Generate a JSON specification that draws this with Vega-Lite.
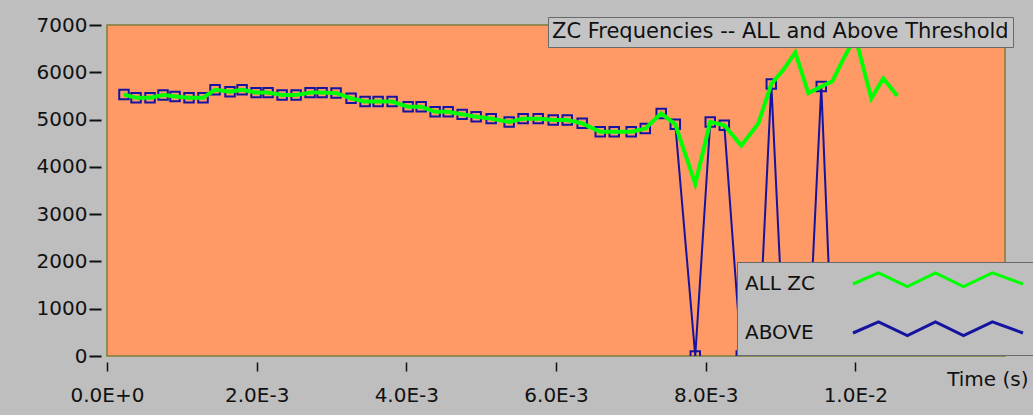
{
  "$schema": "https://vega.github.io/schema/vega-lite/v6.json",
  "width": 898,
  "height": 331,
  "autosize": {"type": "none"},
  "padding": {"left": 107, "top": 25, "right": 28, "bottom": 59},
  "background": "#bebebe",
  "config": {
    "view": {"fill": "#ff9966", "stroke": "#7d7d3a", "strokeWidth": 1.5},
    "font": "DejaVu Sans",
    "axis": {"labelFont": "DejaVu Sans", "labelFontSize": 20, "labelColor": "#111111", "tickColor": "#111111", "domain": false, "grid": false, "titleFont": "DejaVu Sans", "labelFlush": false},
    "axisY": {"values": [0, 1000, 2000, 3000, 4000, 5000, 6000, 7000], "format": "d", "title": null, "offset": 6, "tickSize": 12, "tickWidth": 2, "labelPadding": 2},
    "legend": {"labelFont": "DejaVu Sans", "titleFont": "DejaVu Sans"}
  },
  "data": {"values": [
    {"t": 0.000227, "allzc": 5530, "above": 5530},
    {"t": 0.000388, "allzc": 5460, "above": 5460},
    {"t": 0.000575, "allzc": 5460, "above": 5460},
    {"t": 0.000749, "allzc": 5520, "above": 5520},
    {"t": 0.000909, "allzc": 5490, "above": 5490},
    {"t": 0.001096, "allzc": 5460, "above": 5460},
    {"t": 0.001283, "allzc": 5460, "above": 5460},
    {"t": 0.001444, "allzc": 5630, "above": 5630},
    {"t": 0.001644, "allzc": 5590, "above": 5590},
    {"t": 0.001805, "allzc": 5630, "above": 5630},
    {"t": 0.001992, "allzc": 5570, "above": 5570},
    {"t": 0.002152, "allzc": 5570, "above": 5570},
    {"t": 0.002340, "allzc": 5520, "above": 5520},
    {"t": 0.002527, "allzc": 5520, "above": 5520},
    {"t": 0.002714, "allzc": 5570, "above": 5570},
    {"t": 0.002874, "allzc": 5570, "above": 5570},
    {"t": 0.003061, "allzc": 5560, "above": 5560},
    {"t": 0.003262, "allzc": 5450, "above": 5450},
    {"t": 0.003449, "allzc": 5380, "above": 5380},
    {"t": 0.003623, "allzc": 5380, "above": 5380},
    {"t": 0.003810, "allzc": 5380, "above": 5380},
    {"t": 0.004024, "allzc": 5270, "above": 5270},
    {"t": 0.004198, "allzc": 5270, "above": 5270},
    {"t": 0.004385, "allzc": 5165, "above": 5165},
    {"t": 0.004559, "allzc": 5165, "above": 5165},
    {"t": 0.004746, "allzc": 5110, "above": 5110},
    {"t": 0.004933, "allzc": 5060, "above": 5060},
    {"t": 0.005134, "allzc": 5020, "above": 5020},
    {"t": 0.005374, "allzc": 4950, "above": 4950},
    {"t": 0.005561, "allzc": 5020, "above": 5020},
    {"t": 0.005762, "allzc": 5020, "above": 5020},
    {"t": 0.005963, "allzc": 4990, "above": 4990},
    {"t": 0.006150, "allzc": 4990, "above": 4990},
    {"t": 0.006350, "allzc": 4920, "above": 4920},
    {"t": 0.006591, "allzc": 4740, "above": 4740},
    {"t": 0.006778, "allzc": 4740, "above": 4740},
    {"t": 0.007005, "allzc": 4740, "above": 4740},
    {"t": 0.007193, "allzc": 4810, "above": 4810},
    {"t": 0.007406, "allzc": 5130, "above": 5130},
    {"t": 0.007594, "allzc": 4900, "above": 4900},
    {"t": 0.007861, "allzc": 3640, "above": 0},
    {"t": 0.008061, "allzc": 4950, "above": 4950},
    {"t": 0.008249, "allzc": 4880, "above": 4880},
    {"t": 0.008476, "allzc": 4450, "above": 0},
    {"t": 0.008703, "allzc": 4915, "above": 0},
    {"t": 0.008877, "allzc": 5750, "above": 5750},
    {"t": 0.009051, "allzc": 6080, "above": 0},
    {"t": 0.009198, "allzc": 6420, "above": 0},
    {"t": 0.009372, "allzc": 5560, "above": 0},
    {"t": 0.009545, "allzc": 5700, "above": 5700},
    {"t": 0.009693, "allzc": 5810, "above": 0},
    {"t": 0.009840, "allzc": 6280, "above": 0},
    {"t": 0.010000, "allzc": 6750, "above": 0},
    {"t": 0.010214, "allzc": 5450, "above": 0},
    {"t": 0.010374, "allzc": 5870, "above": 0},
    {"t": 0.010561, "allzc": 5500, "above": 0}
  ]},
  "encoding": {
    "x": {
      "field": "t", "type": "quantitative",
      "scale": {"domain": [0, 0.012], "nice": false, "zero": false},
      "axis": {
        "values": [0, 0.002, 0.004, 0.006, 0.008, 0.01],
        "labelExpr": "upper(format(datum.value, '.1e'))",
        "title": "Time (s)",
        "offset": 6, "tickSize": 9, "tickWidth": 1.5, "labelPadding": 14,
        "titleFontSize": 20, "titleFontWeight": "normal", "titleColor": "#111111",
        "titleAnchor": "end", "titleAlign": "right", "titleX": 921, "titleY": 17, "titleBaseline": "middle"
      }
    }
  },
  "layer": [
    {
      "mark": {"type": "line", "strokeWidth": 2, "clip": true},
      "encoding": {
        "y": {
          "field": "above", "type": "quantitative",
          "scale": {"domain": [0, 7000], "nice": false},
          "axis": {"title": null}
        },
        "color": {
          "datum": "ABOVE",
          "scale": {"domain": ["ALL ZC", "ABOVE"], "range": ["#00ff00", "#1414a0"]},
          "legend": {
            "title": null, "orient": "none", "legendX": 630, "legendY": 237,
            "fillColor": "#bebebe", "strokeColor": "#6a6a6a", "padding": 12,
            "labelFontSize": 20, "labelColor": "#111111", "labelOffset": -203, "labelLimit": 200,
            "symbolOffset": 179, "symbolType": "M-10,0L-7,-1.3L-3.6,0.3L-0.3,-1.3L3,0.3L6.4,-1.3L10,0",
            "symbolSize": 289, "symbolStrokeWidth": 3, "symbolFillColor": "transparent", "rowPadding": 21
          }
        }
      }
    },
    {
      "mark": {"type": "point", "shape": "square", "filled": false, "size": 90, "strokeWidth": 2, "color": "#1414a0", "opacity": 1, "clip": true},
      "encoding": {
        "y": {"field": "above", "type": "quantitative", "axis": {"title": null}}
      }
    },
    {
      "mark": {"type": "line", "strokeWidth": 4, "clip": true},
      "encoding": {
        "y": {"field": "allzc", "type": "quantitative", "axis": {"title": null}},
        "color": {"datum": "ALL ZC"},
        "strokeDash": {
          "datum": "ZC",
          "scale": {"range": [[1, 0]]},
          "legend": {
            "title": "ZC Frequencies -- ALL and Above Threshold",
            "orient": "none", "legendX": 441, "legendY": -8,
            "fillColor": "#c4c4c4", "strokeColor": "#6a6a6a", "padding": 4,
            "titleFontSize": 21, "titleFontWeight": "normal", "titleColor": "#111111", "titlePadding": 0, "titleLimit": 700,
            "symbolOpacity": 0, "symbolSize": 0, "symbolStrokeWidth": 0,
            "labelOpacity": 0, "labelFontSize": 1, "labelExpr": "''"
          }
        }
      }
    }
  ]
}
